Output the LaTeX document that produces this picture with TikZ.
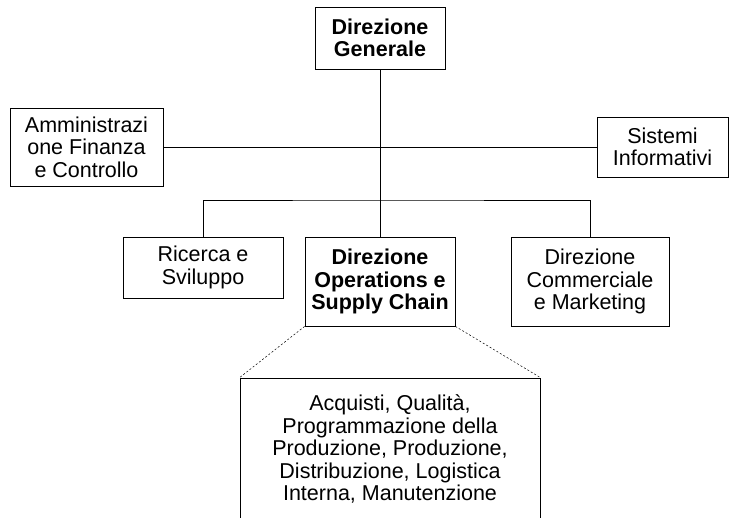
\documentclass[tikz,border=0pt]{standalone}
\usepackage{fontspec}
\setmainfont{Liberation Sans}

\begin{document}
\begin{tikzpicture}[x=1pt,y=-1pt,line width=0.8pt,
    unit/.style={draw,align=center,inner sep=0pt,font=\fontsize{21.5}{22.5}\selectfont},
    head/.style={unit,font=\fontsize{21.5}{22.5}\selectfont\bfseries}]
  \clip (0,0) rectangle (736,518);
  \node[head,minimum width=130pt,minimum height=62pt] (general) at (380,38) {Direzione\\Generale};
  \node[unit,minimum width=153pt,minimum height=78pt] (admin) at (86.5,147) {Amministrazi\\one Finanza\\e Controllo};
  \node[unit,minimum width=131pt,minimum height=60pt] (systems) at (662.5,147) {Sistemi\\Informativi};
  \node[unit,minimum width=160pt,minimum height=61pt] (research) at (203,267.5) {Ricerca e\\Sviluppo};
  \node[head,minimum width=150pt,minimum height=89pt] (operations) at (380,281.5) {Direzione\\Operations e\\Supply Chain};
  \node[unit,minimum width=158pt,minimum height=89pt] (sales) at (590,281.5) {Direzione\\Commerciale\\e Marketing};
  \node[unit,minimum width=300pt,minimum height=142pt] (detail) at (390,449)
    {Acquisti, Qualità,\\Programmazione della\\Produzione, Produzione,\\Distribuzione, Logistica\\Interna, Manutenzione};
  \coordinate (bar) at (380,200);
  \draw (general) -- (operations);
  \draw (admin) -- (systems);
  \draw (research.north) |- (bar) -| (sales.north);
  \draw[dash pattern=on 2pt off 2pt,line width=0.5pt] (operations.south west) -- (detail.north west);
  \draw[dash pattern=on 2pt off 2pt,line width=0.5pt] (operations.south east) -- (detail.north east);
\end{tikzpicture}
\end{document}
